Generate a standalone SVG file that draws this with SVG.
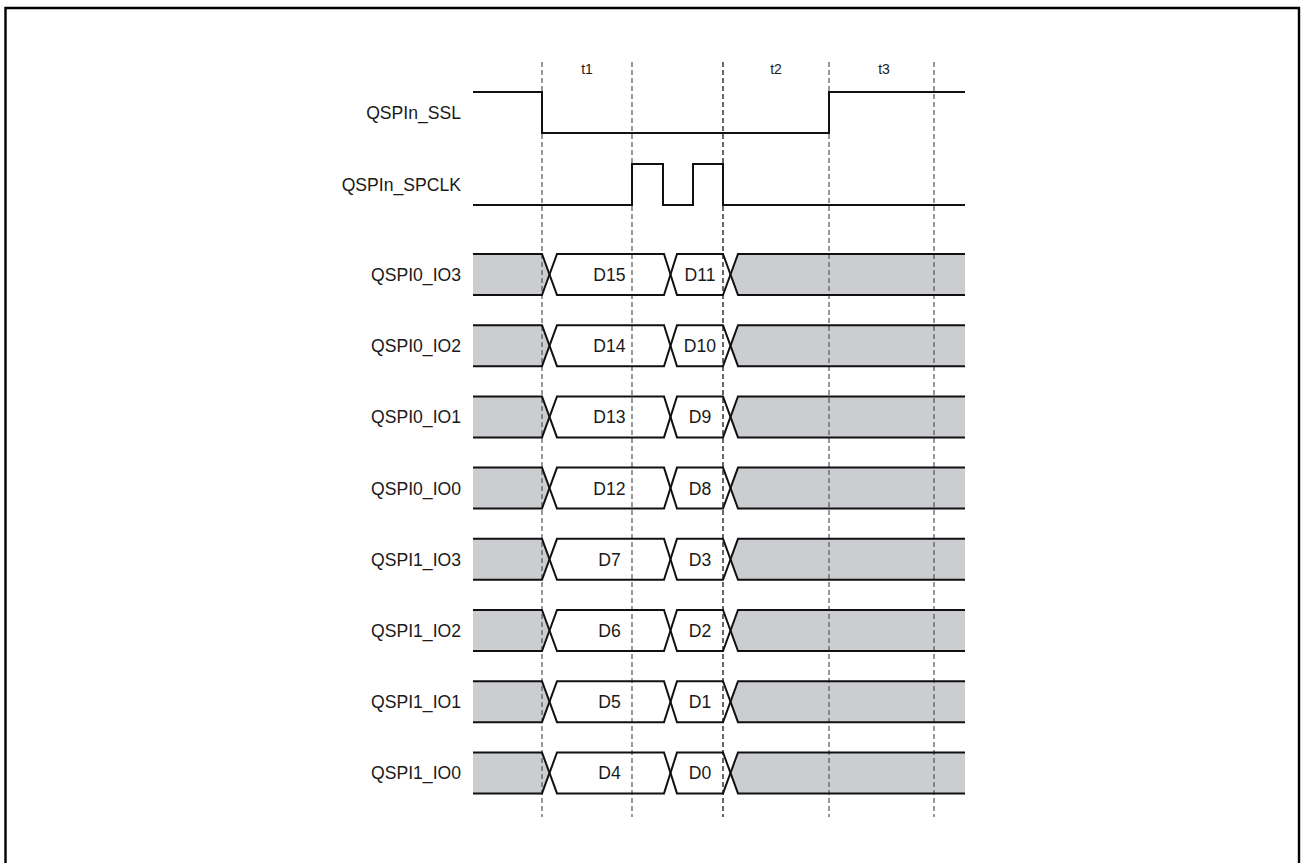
<svg xmlns="http://www.w3.org/2000/svg" width="1301" height="863" viewBox="0 0 1301 863">
<defs>
<style>
.lbl{font-family:"Liberation Sans",Arial,sans-serif;font-size:17.6px;fill:#1a1a1a;text-anchor:end}
.dat{font-family:"Liberation Sans",Arial,sans-serif;font-size:17.6px;fill:#1a1a1a;text-anchor:middle}
.tl{font-family:"Liberation Sans",Arial,sans-serif;font-size:14px;fill:#1a1a1a;text-anchor:middle}
.sig{fill:none;stroke:#111;stroke-width:2;stroke-linejoin:miter}
.gray{fill:#cbcdd0;stroke:none}
.dash{stroke:#555;stroke-width:1.2;stroke-dasharray:5,3;fill:none}
.dashk{stroke:#000;stroke-width:1.2;stroke-dasharray:5,3;fill:none}
</style>
<g id="busShape">
<polygon class="gray" points="473,0 542,0 549.5,20.5 542,41 473,41"/>
<polygon class="gray" points="730.5,20.5 738,0 965,0 965,41 738,41"/>
</g>
<g id="busLines">
<path class="sig" d="M473,0 H542 L557,41 H664 L677,0 H723 L738,41 H965"/>
<path class="sig" d="M473,41 H542 L557,0 H664 L677,41 H723 L738,0 H965"/>
</g>
</defs>
<path d="M5.5,875 V8 H1299 V875" fill="none" stroke="#000" stroke-width="2.4"/>
<g id="timeLabels">
<text class="tl" x="587" y="74">t1</text>
<text class="tl" x="776" y="74">t2</text>
<text class="tl" x="884" y="74">t3</text>
</g>
<g id="fills">
<use href="#busShape" y="254"/>
<use href="#busShape" y="325.2"/>
<use href="#busShape" y="396.4"/>
<use href="#busShape" y="467.6"/>
<use href="#busShape" y="538.8"/>
<use href="#busShape" y="610"/>
<use href="#busShape" y="681.2"/>
<use href="#busShape" y="752.4"/>
</g>
<g id="connectors">
<line class="dash" x1="542" y1="62" x2="542" y2="817"/>
<line class="dash" x1="632" y1="62" x2="632" y2="817"/>
<line class="dashk" x1="723" y1="62" x2="723" y2="817"/>
<line class="dash" x1="829" y1="62" x2="829" y2="817"/>
<line class="dash" x1="934" y1="62" x2="934" y2="817"/>
</g>
<g id="QSPIn_SSL">
<text class="lbl" x="461" y="118.5">QSPIn_SSL</text>
<path class="sig" d="M473,92 H542 V133 H829 V92 H965"/>
</g>
<g id="QSPIn_SPCLK">
<text class="lbl" x="461" y="191">QSPIn_SPCLK</text>
<path class="sig" d="M473,205 H632 V164 H663 V205 H693 V164 H723 V205 H965"/>
</g>
<g id="QSPI0_IO3">
<text class="lbl" x="461" y="281">QSPI0_IO3</text>
<use href="#busLines" y="254"/>
<text class="dat" x="609.5" y="281">D15</text>
<text class="dat" x="700" y="281">D11</text>
</g>
<g id="QSPI0_IO2">
<text class="lbl" x="461" y="352.2">QSPI0_IO2</text>
<use href="#busLines" y="325.2"/>
<text class="dat" x="609.5" y="352.2">D14</text>
<text class="dat" x="700" y="352.2">D10</text>
</g>
<g id="QSPI0_IO1">
<text class="lbl" x="461" y="423.4">QSPI0_IO1</text>
<use href="#busLines" y="396.4"/>
<text class="dat" x="609.5" y="423.4">D13</text>
<text class="dat" x="700" y="423.4">D9</text>
</g>
<g id="QSPI0_IO0">
<text class="lbl" x="461" y="494.6">QSPI0_IO0</text>
<use href="#busLines" y="467.6"/>
<text class="dat" x="609.5" y="494.6">D12</text>
<text class="dat" x="700" y="494.6">D8</text>
</g>
<g id="QSPI1_IO3">
<text class="lbl" x="461" y="565.8">QSPI1_IO3</text>
<use href="#busLines" y="538.8"/>
<text class="dat" x="609.5" y="565.8">D7</text>
<text class="dat" x="700" y="565.8">D3</text>
</g>
<g id="QSPI1_IO2">
<text class="lbl" x="461" y="637">QSPI1_IO2</text>
<use href="#busLines" y="610"/>
<text class="dat" x="609.5" y="637">D6</text>
<text class="dat" x="700" y="637">D2</text>
</g>
<g id="QSPI1_IO1">
<text class="lbl" x="461" y="708.2">QSPI1_IO1</text>
<use href="#busLines" y="681.2"/>
<text class="dat" x="609.5" y="708.2">D5</text>
<text class="dat" x="700" y="708.2">D1</text>
</g>
<g id="QSPI1_IO0">
<text class="lbl" x="461" y="779.4">QSPI1_IO0</text>
<use href="#busLines" y="752.4"/>
<text class="dat" x="609.5" y="779.4">D4</text>
<text class="dat" x="700" y="779.4">D0</text>
</g>
</svg>
